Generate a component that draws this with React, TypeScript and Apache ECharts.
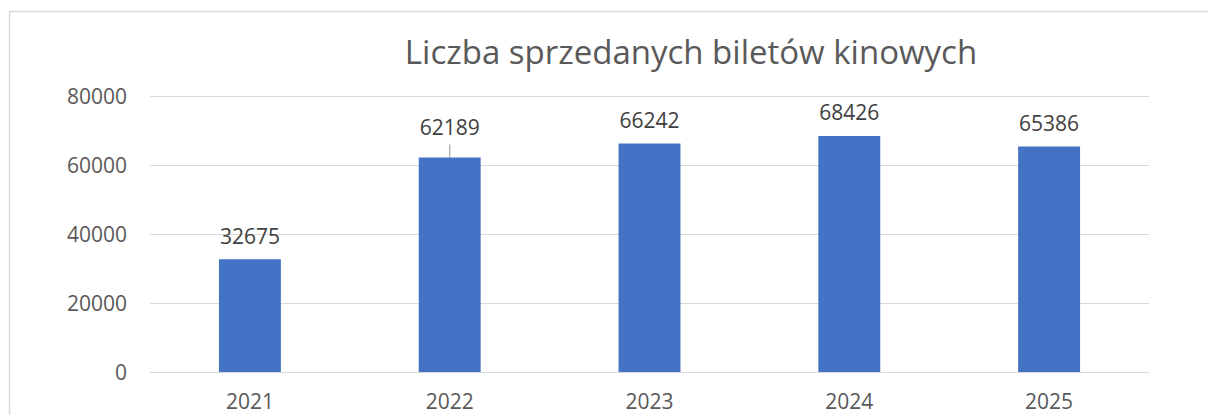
import React, { useEffect, useRef } from "react";
import * as echarts from "echarts";

const titleText = "Liczba sprzedanych biletów kinowych";
const years = ["2021", "2022", "2023", "2024", "2025"];
const tickets = [32675, 62189, 66242, 68426, 65386];
const yTicks = [0, 20000, 40000, 60000, 80000];

const FONT = "'Open Sans', sans-serif";

export default function App() {
  const ref = useRef<HTMLDivElement>(null);
  useEffect(() => {
    if (!ref.current) return;
    const chart = echarts.init(ref.current, undefined, { renderer: "svg" });
    const option: any = {
      animation: false,
      backgroundColor: "#ffffff",
      title: {
        text: titleText,
        left: 686,
        textAlign: "center",
        top: 30,
        textStyle: { fontFamily: FONT, fontSize: 33, fontWeight: "normal", color: "#595959" },
      },
      grid: { left: 150, right: 59, top: 96, bottom: 43, containLabel: false },
      xAxis: {
        type: "category",
        data: years,
        axisLine: { show: true, lineStyle: { color: "#d9d9d9", width: 1 } },
        axisTick: { show: false },
        axisLabel: { fontFamily: FONT, fontSize: 21, color: "#595959", margin: 18 },
      },
      yAxis: {
        type: "value",
        min: yTicks[0],
        max: yTicks[yTicks.length - 1],
        interval: yTicks[1] - yTicks[0],
        axisLine: { show: false },
        axisTick: { show: false },
        splitLine: { lineStyle: { color: "#d9d9d9", width: 1 } },
        axisLabel: {
          fontFamily: FONT,
          fontSize: 21,
          color: "#595959",
          margin: 23,
          formatter: (v: number) => String(v),
        },
      },
      series: [
        {
          type: "bar",
          data: tickets.map((v, i) =>
            i === 1
              ? { value: v, label: { distance: 20 } }
              : { value: v }
          ),
          barWidth: "31%",
          itemStyle: { color: "#4472c4" },
          label: {
            show: true,
            position: "top",
            distance: 13,
            fontFamily: FONT,
            fontSize: 21,
            color: "#404040",
          },
        },
      ],
      graphic: [
        {
          type: "rect",
          shape: { x: 9.5, y: 11.5, width: 2000, height: 1000 },
          style: { fill: "none", stroke: "#d9d9d9", lineWidth: 1.5 },
          silent: true,
          z: -10,
        },
      ],
    };
    chart.setOption(option);
    const top = chart.convertToPixel({ xAxisIndex: 0, yAxisIndex: 0 }, [1, tickets[1]]);
    if (top) {
      chart.setOption({
        graphic: [
          option.graphic[0],
          {
            type: "line",
            shape: { x1: top[0], y1: top[1] - 13, x2: top[0], y2: top[1] },
            style: { stroke: "#a6a6a6", lineWidth: 1.2 },
            silent: true,
          },
        ],
      });
    }
    return () => chart.dispose();
  }, []);
  return (
    <div
      ref={ref}
      style={{ position: "fixed", left: 0, top: 0, width: 1208, height: 415 }}
    />
  );
}
